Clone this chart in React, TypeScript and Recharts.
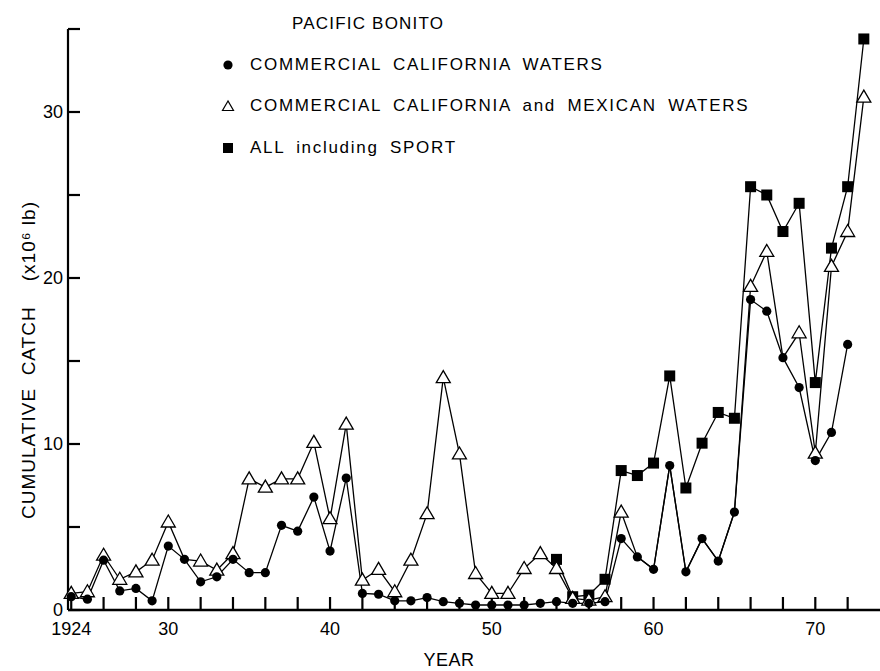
import React from "react";
import { Line, LineChart, XAxis, YAxis } from "recharts";

// Pacific bonito catch, millions of lb
const years = [
  1924, 1925, 1926, 1927, 1928, 1929, 1930, 1931, 1932, 1933, 1934, 1935, 1936, 1937, 1938, 1939, 1940,
  1941, 1942, 1943, 1944, 1945, 1946, 1947, 1948, 1949, 1950, 1951, 1952, 1953, 1954, 1955, 1956, 1957,
  1958, 1959, 1960, 1961, 1962, 1963, 1964, 1965, 1966, 1967, 1968, 1969, 1970, 1971, 1972, 1973,
];

const calWaters = [
  0.8, 0.65, 3.0, 1.15, 1.3, 0.55, 3.85, 3.05, 1.7, 2.0, 3.05, 2.25, 2.25, 5.1, 4.75, 6.8, 3.55,
  7.95, 1.0, 0.95, 0.55, 0.55, 0.75, 0.5, 0.4, 0.3, 0.3, 0.3, 0.3, 0.4, 0.5, 0.4, 0.4, 0.5,
  4.3, 3.2, 2.45, 8.7, 2.3, 4.3, 2.95, 5.9, 18.7, 18.0, 15.2, 13.4, 9.0, 10.7, 16.0, null,
];

const calMexWaters = [
  1.0, 1.1, 3.3, 1.85, 2.3, 3.0, 5.3, 3.05, 2.95, 2.4, 3.4, 7.9, 7.4, 7.9, 7.9, 10.1, 5.5,
  11.2, 1.8, 2.45, 1.1, 3.0, 5.8, 14.0, 9.4, 2.2, 1.0, 1.0, 2.5, 3.4, 2.5, 0.7, 0.6, 0.8,
  5.9, 3.2, 2.45, 8.7, 2.3, 4.3, 2.95, 5.9, 19.5, 21.6, 15.2, 16.7, 9.45, 20.7, 22.8, 30.9,
];

const allSport = [
  null, null, null, null, null, null, null, null, null, null, null, null, null, null, null, null, null,
  null, null, null, null, null, null, null, null, null, null, null, null, null, 3.05, 0.8, 0.9, 1.85,
  8.4, 8.1, 8.85, 14.1, 7.35, 10.05, 11.9, 11.55, 25.5, 25.0, 22.8, 24.5, 13.7, 21.8, 25.5, 34.4,
];

const xTicks = [
  1924, 1926, 1928, 1930, 1932, 1934, 1936, 1938, 1940, 1942, 1944, 1946, 1948, 1950, 1952, 1954,
  1956, 1958, 1960, 1962, 1964, 1966, 1968, 1970, 1972,
];
const xLabels: Record<number, string> = { 1924: "1924", 1930: "30", 1940: "40", 1950: "50", 1960: "60", 1970: "70" };
const yTicks = [0, 5, 10, 15, 20, 25, 30, 35];
const yLabels: Record<number, string> = { 0: "0", 10: "10", 20: "20", 30: "30" };

const legendItems = [
  { marker: "circle", text: "COMMERCIAL CALIFORNIA WATERS" },
  { marker: "triangle", text: "COMMERCIAL CALIFORNIA and MEXICAN WATERS" },
  { marker: "square", text: "ALL including SPORT" },
];

const rows = years.map((year, i) => ({
  year,
  cal: calWaters[i],
  calMex: calMexWaters[i],
  all: allSport[i],
}));

const FONT = "'Liberation Sans', Arial, sans-serif";
const AXIS_LEFT = 68;

function CircleDot(props: any) {
  const { cx, cy, value, index } = props;
  if (cx == null || cy == null || value == null) return <g key={index} />;
  return <circle key={index} cx={cx} cy={cy} r={4.6} fill="#000" />;
}

function TriangleDot(props: any) {
  const { cx, cy, value, index, payload } = props;
  // hidden where it sits under the California-only point
  if (cx == null || cy == null || value == null || payload.cal === value) return <g key={index} />;
  return (
    <polygon
      key={index}
      points={`${cx},${cy - 7} ${cx - 7},${cy + 5} ${cx + 7},${cy + 5}`}
      fill="#fff"
      stroke="#000"
      strokeWidth={1.3}
    />
  );
}

function SquareDot(props: any) {
  const { cx, cy, value, index } = props;
  if (cx == null || cy == null || value == null) return <g key={index} />;
  return <rect key={index} x={cx - 5.5} y={cy - 5.5} width={11} height={11} fill="#000" />;
}

function YTickLabel(props: any) {
  const { y, payload } = props;
  const label = yLabels[payload.value] ?? "";
  return (
    <text x={AXIS_LEFT - 5} y={y} dy="0.36em" textAnchor="end" fontSize={18} fontFamily={FONT} fill="#000">
      {label}
    </text>
  );
}

function XTickLabel(props: any) {
  const { x, payload } = props;
  const label = xLabels[payload.value] ?? "";
  return (
    <text x={x} y={629} dy="0.36em" textAnchor="middle" fontSize={18} fontFamily={FONT} fill="#000">
      {label}
    </text>
  );
}

function LegendMarker({ kind }: { kind: string }) {
  return (
    <svg width={14} height={14} style={{ display: "block" }}>
      {kind === "circle" && <circle cx={7} cy={7} r={4.6} fill="#000" />}
      {kind === "triangle" && <polygon points="7,2 1.5,11.5 12.5,11.5" fill="#fff" stroke="#000" strokeWidth={1.2} />}
      {kind === "square" && <rect x={2} y={2} width={10} height={10} fill="#000" />}
    </svg>
  );
}

export default function App() {
  return (
    <div style={{ position: "absolute", left: 0, top: 0, width: 880, height: 671, background: "#fff", fontFamily: FONT }}>
      <LineChart width={880} height={671} data={rows} margin={{ top: 29, right: 0, bottom: 0, left: 0 }}>
        <XAxis
          dataKey="year"
          type="number"
          domain={[1923.8, 1974]}
          ticks={xTicks}
          interval={0}
          height={61}
          tickSize={-13}
          tickLine={{ stroke: "#000", strokeWidth: 2.2 }}
          tick={<XTickLabel />}
          axisLine={{ stroke: "#000", strokeWidth: 2.6 }}
        />
        <YAxis
          type="number"
          domain={[0, 35]}
          ticks={yTicks}
          interval={0}
          width={AXIS_LEFT}
          tickSize={-12}
          tickLine={{ stroke: "#000", strokeWidth: 2.2 }}
          tick={<YTickLabel />}
          axisLine={{ stroke: "#000", strokeWidth: 2.2 }}
        />
        <Line
          dataKey="all"
          type="linear"
          stroke="#000"
          strokeWidth={1.3}
          dot={SquareDot}
          activeDot={false}
          isAnimationActive={false}
        />
        <Line
          dataKey="calMex"
          type="linear"
          stroke="#000"
          strokeWidth={1.3}
          dot={TriangleDot}
          activeDot={false}
          isAnimationActive={false}
        />
        <Line
          dataKey="cal"
          type="linear"
          stroke="#000"
          strokeWidth={1.3}
          dot={CircleDot}
          activeDot={false}
          isAnimationActive={false}
        />
      </LineChart>

      <div style={{ position: "absolute", left: 292, top: 14, fontSize: 17, letterSpacing: 1.2, color: "#000" }}>
        PACIFIC BONITO
      </div>

      {legendItems.map((item, i) => (
        <div
          key={item.text}
          style={{
            position: "absolute",
            left: 221,
            top: [55, 96, 138][i],
            height: 20,
            display: "flex",
            alignItems: "center",
            fontSize: 17,
            letterSpacing: 1.7,
            wordSpacing: 5,
            color: "#000",
            whiteSpace: "nowrap",
          }}
        >
          <LegendMarker kind={item.marker} />
          <span style={{ marginLeft: 15 }}>{item.text}</span>
        </div>
      ))}

      <div
        style={{
          position: "absolute",
          left: 29,
          top: 360,
          transform: "translate(-50%, -50%) rotate(-90deg)",
          fontSize: 19,
          letterSpacing: 1,
          whiteSpace: "pre",
          color: "#000",
        }}
      >
        {"CUMULATIVE  CATCH    (x10\u2076 lb)"}
      </div>

      <div style={{ position: "absolute", left: 449, top: 660, transform: "translate(-50%, -50%)", fontSize: 18, letterSpacing: 0.5, color: "#000" }}>
        YEAR
      </div>
    </div>
  );
}
